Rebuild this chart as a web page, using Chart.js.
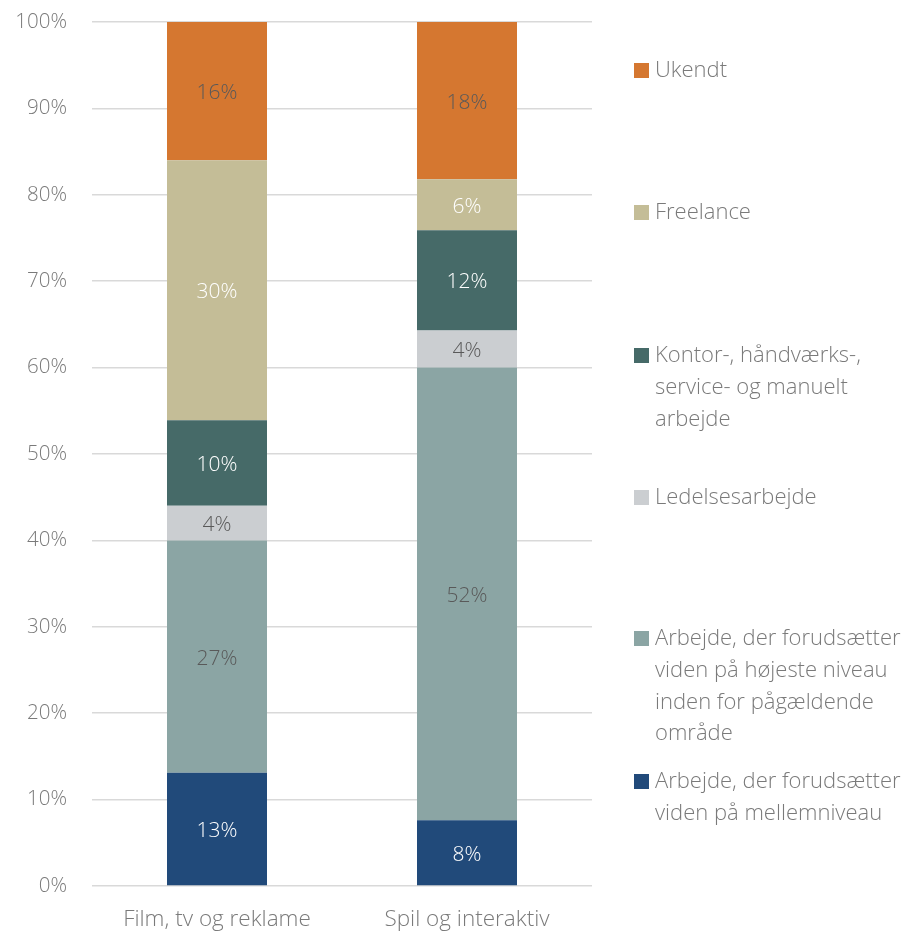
<!DOCTYPE html>
<html>
<head>
<meta charset="utf-8">
<script src="https://cdn.jsdelivr.net/npm/chart.js@4"></script>
<style>
  html, body { margin: 0; padding: 0; background: #fff; }
  #wrap { position: relative; width: 908px; height: 934px; }
</style>
</head>
<body>
<div id="wrap"><canvas id="chart"></canvas></div>
<script>
'use strict'

var categories = ['Film, tv og reklame', 'Spil og interaktiv'];

// bottom to top in the stack
var mellemniveau = [13.1, 7.6];
var hoejesteNiveau = [26.9, 52.4];
var ledelse = [4.0, 4.3];
var kontor = [9.9, 11.6];
var freelance = [30.1, 5.9];
var ukendt = [16.0, 18.2];

var yTicks = [0, 10, 20, 30, 40, 50, 60, 70, 80, 90, 100];

var seriesNames = [
  ['Arbejde, der forudsætter', 'viden på mellemniveau'],
  ['Arbejde, der forudsætter', 'viden på højeste niveau', 'inden for pågældende', 'område'],
  ['Ledelsesarbejde'],
  ['Kontor-, håndværks-,', 'service- og manuelt', 'arbejde'],
  ['Freelance'],
  ['Ukendt']
];

var colors = ['#214a7a', '#8ba5a4', '#cbced1', '#466a68', '#c4bd97', '#d57730'];
var labelColors = ['#ffffff', '#595959', '#595959', '#ffffff', '#ffffff', '#595959'];

var FONT = '"Open Sans", "Noto Sans", sans-serif';

var seriesData = [mellemniveau, hoejesteNiveau, ledelse, kontor, freelance, ukendt];

var datasets = seriesData.map(function (d, i) {
  return {
    label: seriesNames[i].join(' '),
    data: d,
    backgroundColor: colors[i],
    borderWidth: 0,
    barPercentage: 0.4,
    categoryPercentage: 1
  };
});

// value labels in the middle of each segment
var segmentLabels = {
  id: 'segmentLabels',
  afterDatasetsDraw: function (chart) {
    var ctx = chart.ctx;
    ctx.save();
    ctx.font = '300 21px ' + FONT;
    ctx.textAlign = 'center';
    ctx.textBaseline = 'middle';
    chart.data.datasets.forEach(function (ds, i) {
      var meta = chart.getDatasetMeta(i);
      meta.data.forEach(function (bar, j) {
        ctx.fillStyle = labelColors[i];
        ctx.fillText(Math.round(ds.data[j]) + '%', bar.x, (bar.y + bar.base) / 2 + 2);
      });
    });
    ctx.restore();
  }
};

// legend on the right, with wrapped lines, top item = top of stack
var legendYs = [781, 638, 497, 355, 212, 70];
var sideLegend = {
  id: 'sideLegend',
  afterDraw: function (chart) {
    var ctx = chart.ctx;
    ctx.save();
    ctx.font = '300 22px ' + FONT;
    ctx.textBaseline = 'middle';
    ctx.textAlign = 'left';
    seriesNames.forEach(function (lines, i) {
      var y = legendYs[i];
      ctx.fillStyle = colors[i];
      ctx.fillRect(634, y - 7, 15, 15);
      ctx.fillStyle = '#7a7a7a';
      lines.forEach(function (line, k) {
        ctx.fillText(line, 655, y + 1 + k * 31.7);
      });
    });
    ctx.restore();
  }
};

var ctx = document.getElementById('chart');
var mychart = new Chart(ctx, {
  type: 'bar',
  data: {
    labels: categories,
    datasets: datasets
  },
  options: {
    responsive: true,
    maintainAspectRatio: false,
    animation: false,
    layout: { padding: { left: 0, right: 316, top: 22, bottom: 0 } },
    plugins: {
      legend: { display: false },
      tooltip: { enabled: false }
    },
    scales: {
      x: {
        stacked: true,
        grid: { display: false, drawTicks: false },
        border: { display: false },
        afterFit: function (scale) { scale.height = 48; },
        ticks: {
          color: '#7a7a7a',
          padding: 20,
          font: { family: FONT, size: 22.5, weight: 300 }
        }
      },
      y: {
        stacked: true,
        min: 0,
        max: 100,
        afterFit: function (scale) {
          scale.width = 92;
          scale.paddingTop = 0;
          scale.paddingBottom = 0;
        },
        afterBuildTicks: function (scale) {
          scale.ticks = yTicks.map(function (v) { return { value: v }; });
        },
        grid: { color: '#d9d9d9', lineWidth: 1.5, drawTicks: false },
        border: { display: false },
        ticks: {
          color: '#7a7a7a',
          padding: 25,
          font: { family: FONT, size: 20.5, weight: 300 },
          callback: function (v) { return v + '%'; }
        }
      }
    }
  },
  plugins: [segmentLabels, sideLegend]
});
</script>
</body>
</html>
